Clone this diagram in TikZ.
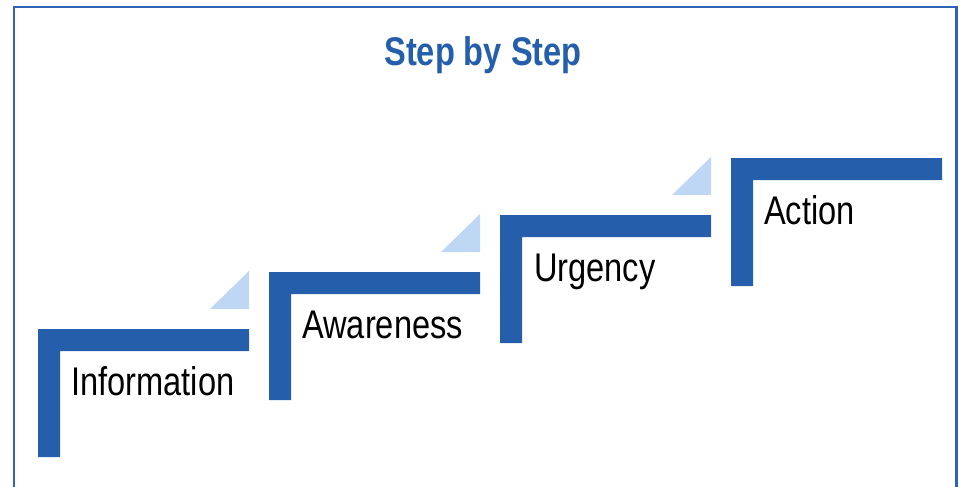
\documentclass[tikz,border=0pt]{standalone}
\usepackage{fontspec}
\setmainfont{Liberation Sans}[FakeStretch=0.815]
\definecolor{stepblue}{HTML}{255EAA}
\definecolor{paleblue}{HTML}{BDD7F5}
\definecolor{frameblue}{HTML}{2E64B6}
\tikzset{
	stepbar/.style = {fill = stepblue},
	riser/.style = {fill = paleblue},
	steplabel/.style = {anchor = base west, inner sep = 0pt, font = \fontsize{40}{48}\selectfont},
}
\begin{document}
\begin{tikzpicture}[x = 1pt, y = -1pt]
	\useasboundingbox (0,0) rectangle (961,487);
	\clip (0,0) rectangle (961,487);
	\draw[frameblue, line width = 2.5pt] (14,7) rectangle (956.5,520); %frame
	\node[anchor = base, inner sep = 0pt, text = stepblue, font = \fontsize{40}{48}\selectfont\bfseries] (title) at (483,66) {Step by Step};
	\fill[stepbar] (38,329) -- (249,329) -- (249,351) -- (60,351) -- (60,457) -- (38,457) -- cycle; %step 1
	\fill[stepbar] (269,272) -- (480,272) -- (480,294) -- (291,294) -- (291,400) -- (269,400) -- cycle; %step 2
	\fill[stepbar] (500,215) -- (711,215) -- (711,237) -- (522,237) -- (522,343) -- (500,343) -- cycle; %step 3
	\fill[stepbar] (731,158) -- (942,158) -- (942,180) -- (753,180) -- (753,286) -- (731,286) -- cycle; %step 4
	\fill[riser] (210,309) -- (249,309) -- (249,271) -- cycle;
	\fill[riser] (441,252) -- (480,252) -- (480,214) -- cycle;
	\fill[riser] (672,195) -- (711,195) -- (711,157) -- cycle;
	\node[steplabel] (information) at (71,395) {Information};
	\node[steplabel] (awareness) at (302,338) {Awareness};
	\node[steplabel] (urgency) at (534,281) {Urgency};
	\node[steplabel] (action) at (764,224) {Action};
\end{tikzpicture}
\end{document}
